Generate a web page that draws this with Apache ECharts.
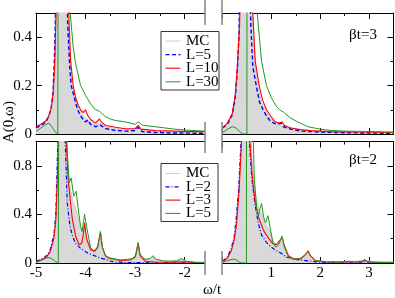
<!DOCTYPE html>
<html><head><meta charset="utf-8">
<script src="https://cdn.jsdelivr.net/npm/echarts@6/dist/echarts.min.js"></script>
<style>html,body{margin:0;padding:0;background:#fff}#c{width:395px;height:298px}</style>
</head><body><div id="c"></div>
<script>
// ---------- data: [omega/t, A(0,omega)] ----------
// top row, beta t = 3, left part of omega axis
const tlMC  = [[-5,0.03],[-4.9,0.04],[-4.8,0.055],[-4.72,0.08],[-4.66,0.13],[-4.62,0.25],[-4.59,0.5],[-4.56,1.2],[-4.5,3],[-4.42,1.5],[-4.36,0.5],[-4.32,0.3],[-4.27,0.2],[-4.2,0.14],[-4.1,0.09],[-4.0,0.065],[-3.9,0.05],[-3.8,0.04],[-3.7,0.045],[-3.6,0.03],[-3.4,0.022],[-3.2,0.018],[-3.0,0.02],[-2.93,0.024],[-2.8,0.012],[-2.5,0.008],[-2.2,0.006],[-1.9,0.005],[-1.59,0.004]];
const tlL5  = [[-5,0.025],[-4.9,0.035],[-4.8,0.05],[-4.75,0.07],[-4.7,0.1],[-4.66,0.16],[-4.63,0.3],[-4.6,0.55],[-4.55,1.5],[-4.47,3],[-4.4,1.0],[-4.36,0.45],[-4.32,0.28],[-4.29,0.2],[-4.2,0.13],[-4.16,0.1],[-4.1,0.075],[-4.05,0.06],[-4.0,0.05],[-3.95,0.058],[-3.9,0.04],[-3.8,0.03],[-3.7,0.037],[-3.6,0.022],[-3.4,0.015],[-3.2,0.012],[-3.0,0.014],[-2.94,0.028],[-2.86,0.01],[-2.6,0.006],[-2.2,0.004],[-1.59,0.003]];
const tlL10 = [[-5,0.03],[-4.9,0.04],[-4.8,0.055],[-4.74,0.075],[-4.69,0.11],[-4.65,0.18],[-4.62,0.3],[-4.59,0.55],[-4.54,1.5],[-4.46,3],[-4.38,1.0],[-4.34,0.5],[-4.3,0.3],[-4.25,0.2],[-4.2,0.15],[-4.15,0.12],[-4.1,0.1],[-4.05,0.088],[-4.0,0.1],[-3.96,0.078],[-3.9,0.06],[-3.8,0.045],[-3.72,0.062],[-3.68,0.05],[-3.6,0.035],[-3.4,0.028],[-3.2,0.022],[-3.0,0.022],[-2.94,0.036],[-2.88,0.02],[-2.6,0.014],[-2.2,0.012],[-1.9,0.01],[-1.59,0.01]];
const tlL30 = [[-5,0.01],[-4.9,0.025],[-4.8,0.04],[-4.74,0.045],[-4.68,0.03],[-4.62,0.01],[-4.56,0.0],[-4.52,0.0],[-4.515,5],[-4.33,0.6],[-4.31,0.5],[-4.25,0.36],[-4.2,0.29],[-4.1,0.2],[-4.0,0.16],[-3.9,0.125],[-3.8,0.1],[-3.75,0.098],[-3.7,0.09],[-3.6,0.072],[-3.5,0.062],[-3.4,0.056],[-3.2,0.05],[-3.0,0.04],[-2.94,0.05],[-2.85,0.036],[-2.6,0.03],[-2.4,0.025],[-2.2,0.02],[-1.9,0.015],[-1.59,0.012]];
// top row, beta t = 3, right part
const trMC  = [[0,0.025],[0.1,0.04],[0.2,0.075],[0.27,0.15],[0.32,0.3],[0.36,0.6],[0.42,2],[0.5,3],[0.58,1],[0.62,0.45],[0.67,0.28],[0.72,0.2],[0.8,0.13],[0.9,0.09],[1.0,0.06],[1.1,0.045],[1.2,0.04],[1.3,0.03],[1.5,0.02],[1.8,0.012],[2.2,0.008],[2.8,0.005],[3.5,0.004]];
const trL5  = [[0,0.025],[0.1,0.04],[0.2,0.08],[0.26,0.15],[0.3,0.25],[0.34,0.42],[0.38,1.0],[0.45,3],[0.53,1.0],[0.58,0.45],[0.62,0.28],[0.69,0.2],[0.76,0.13],[0.83,0.1],[0.9,0.075],[0.97,0.055],[1.05,0.045],[1.12,0.04],[1.2,0.045],[1.25,0.03],[1.4,0.02],[1.6,0.012],[1.8,0.01],[2.0,0.008],[2.5,0.005],[3.0,0.004],[3.5,0.003]];
const trL10 = [[0,0.025],[0.1,0.045],[0.2,0.085],[0.26,0.16],[0.3,0.27],[0.35,0.45],[0.4,1.0],[0.47,3],[0.56,1.0],[0.62,0.5],[0.67,0.3],[0.75,0.2],[0.82,0.14],[0.9,0.1],[1.0,0.07],[1.07,0.052],[1.15,0.045],[1.22,0.05],[1.27,0.035],[1.4,0.025],[1.6,0.018],[1.8,0.014],[2.2,0.01],[2.8,0.008],[3.5,0.006]];
const trL30 = [[0,0.005],[0.1,0.02],[0.2,0.03],[0.28,0.025],[0.35,0.01],[0.42,0],[0.5,0],[0.505,5],[0.69,0.6],[0.71,0.5],[0.8,0.3],[0.9,0.2],[1.0,0.15],[1.1,0.115],[1.17,0.1],[1.25,0.09],[1.4,0.065],[1.54,0.05],[1.75,0.03],[2.0,0.02],[2.2,0.015],[2.5,0.012],[3.0,0.01],[3.5,0.008]];
// bottom row, beta t = 2, left part
const blMC  = [[-5,0.012],[-4.9,0.025],[-4.8,0.05],[-4.72,0.09],[-4.64,0.2],[-4.6,0.35],[-4.56,0.8],[-4.52,2],[-4.45,3],[-4.4,1.2],[-4.35,0.75],[-4.3,0.6],[-4.25,0.5],[-4.2,0.45],[-4.15,0.37],[-4.1,0.28],[-4.05,0.25],[-4.02,0.3],[-3.97,0.2],[-3.9,0.12],[-3.8,0.08],[-3.72,0.15],[-3.7,0.2],[-3.66,0.12],[-3.6,0.05],[-3.5,0.03],[-3.2,0.02],[-3.0,0.04],[-2.94,0.12],[-2.88,0.04],[-2.7,0.03],[-2.64,0.05],[-2.58,0.025],[-2.3,0.015],[-2.06,0.03],[-1.9,0.01],[-1.59,0.005]];
const blL2  = [[-5,0.014],[-4.9,0.03],[-4.8,0.055],[-4.72,0.1],[-4.64,0.23],[-4.6,0.4],[-4.56,1.0],[-4.5,3],[-4.44,2],[-4.41,1.0],[-4.37,0.5],[-4.32,0.32],[-4.27,0.23],[-4.2,0.16],[-4.1,0.12],[-4.04,0.105],[-3.95,0.08],[-3.85,0.065],[-3.7,0.04],[-3.59,0.03],[-3.5,0.015],[-3.4,0.008],[-3.2,0.004],[-2.8,0.002],[-1.59,0.001]];
const blL3  = [[-5,0.012],[-4.9,0.025],[-4.8,0.045],[-4.72,0.085],[-4.64,0.2],[-4.6,0.35],[-4.56,0.8],[-4.53,1.5],[-4.48,3],[-4.42,1.5],[-4.39,1.0],[-4.35,0.68],[-4.27,0.37],[-4.2,0.22],[-4.13,0.15],[-4.08,0.16],[-4.05,0.22],[-4.02,0.33],[-3.98,0.2],[-3.9,0.11],[-3.82,0.1],[-3.76,0.13],[-3.7,0.25],[-3.66,0.13],[-3.6,0.06],[-3.53,0.04],[-3.3,0.02],[-3.1,0.025],[-3.0,0.05],[-2.94,0.16],[-2.9,0.06],[-2.8,0.015],[-2.6,0.008],[-2.3,0.006],[-2.06,0.01],[-1.8,0.005],[-1.59,0.004]];
const blL5  = [[-5,0.005],[-4.9,0.02],[-4.8,0.04],[-4.74,0.045],[-4.68,0.035],[-4.6,0.01],[-4.55,0],[-4.52,0],[-4.515,5],[-4.4,1.2],[-4.36,0.85],[-4.33,0.66],[-4.29,0.7],[-4.24,0.55],[-4.19,0.59],[-4.15,0.45],[-4.1,0.3],[-4.07,0.26],[-4.02,0.4],[-3.98,0.3],[-3.9,0.13],[-3.82,0.09],[-3.75,0.13],[-3.7,0.26],[-3.66,0.13],[-3.6,0.06],[-3.5,0.04],[-3.3,0.025],[-3.05,0.035],[-2.98,0.07],[-2.94,0.17],[-2.9,0.07],[-2.8,0.03],[-2.7,0.035],[-2.64,0.06],[-2.58,0.03],[-2.4,0.015],[-2.15,0.015],[-2.06,0.04],[-2.0,0.015],[-1.8,0.005],[-1.59,0.004]];
// bottom row, beta t = 2, right part
const brMC  = [[0,0.012],[0.1,0.045],[0.18,0.11],[0.24,0.2],[0.29,0.35],[0.34,0.65],[0.39,1.1],[0.46,3],[0.56,1.2],[0.62,0.75],[0.68,0.55],[0.74,0.45],[0.8,0.4],[0.86,0.33],[0.92,0.3],[0.98,0.25],[1.05,0.17],[1.12,0.15],[1.2,0.18],[1.26,0.13],[1.35,0.05],[1.5,0.03],[1.7,0.06],[1.75,0.08],[1.8,0.05],[1.9,0.02],[2.2,0.01],[2.6,0.012],[2.9,0.02],[3.2,0.006],[3.5,0.004]];
const brL2  = [[0,0.014],[0.1,0.05],[0.18,0.12],[0.24,0.22],[0.28,0.37],[0.33,0.6],[0.38,1.0],[0.45,3],[0.55,1.0],[0.6,0.7],[0.66,0.5],[0.73,0.33],[0.8,0.23],[0.9,0.17],[1.0,0.13],[1.07,0.11],[1.2,0.08],[1.3,0.05],[1.5,0.03],[1.7,0.02],[1.9,0.01],[2.1,0.004],[2.5,0.002],[3.5,0.001]];
const brL3  = [[0,0.01],[0.1,0.04],[0.18,0.1],[0.24,0.19],[0.29,0.33],[0.34,0.6],[0.39,1.0],[0.46,3],[0.56,1.0],[0.61,0.7],[0.67,0.5],[0.75,0.36],[0.85,0.26],[0.95,0.2],[1.03,0.16],[1.1,0.15],[1.16,0.18],[1.22,0.21],[1.26,0.15],[1.35,0.06],[1.45,0.035],[1.6,0.035],[1.7,0.07],[1.75,0.1],[1.8,0.06],[1.9,0.02],[2.1,0.01],[2.5,0.008],[2.85,0.01],[2.91,0.02],[3.0,0.008],[3.5,0.005]];
const brL5  = [[0,0.005],[0.1,0.02],[0.2,0.03],[0.26,0.03],[0.32,0.015],[0.38,0],[0.49,0],[0.495,5],[0.6,1.5],[0.65,0.7],[0.7,0.45],[0.73,0.38],[0.77,0.45],[0.8,0.49],[0.84,0.38],[0.88,0.33],[0.93,0.39],[0.97,0.3],[1.03,0.17],[1.09,0.13],[1.15,0.15],[1.19,0.19],[1.22,0.22],[1.26,0.14],[1.35,0.05],[1.45,0.03],[1.6,0.035],[1.7,0.07],[1.75,0.1],[1.8,0.06],[1.9,0.02],[2.1,0.008],[2.5,0.008],[2.6,0.015],[2.64,0.02],[2.7,0.008],[2.85,0.015],[2.91,0.03],[2.97,0.01],[3.2,0.005],[3.5,0.004]];

// axis ranges and ticks
const leftRange = [-5, -1.59];
const rightRange = [0, 3.5];
const leftMajor = [-5, -4, -3, -2], leftMinor = [-4.5, -3.5, -2.5];
const rightMajor = [0, 1, 2, 3], rightMinor = [0.5, 1.5, 2.5];
const leftLabels = [-5, -4, -3, -2], rightLabels = [1, 2, 3];
const topYMax = 0.5, botYMax = 1.0;
const topYMajor = [0, 0.2, 0.4], topYMinor = [0.1, 0.3];
const botYMajor = [0, 0.4, 0.8], botYMinor = [0.2, 0.6];
const topLegend = ['MC', 'L=5', 'L=10', 'L=30'];
const botLegend = ['MC', 'L=2', 'L=3', 'L=5'];
const topTag = 'βt=3', botTag = 'βt=2';

// ---------- styles / layout ----------
const FONT = 'Liberation Serif';
const FS = 15;
const GRAY_LINE = '#cdcdcd', GRAY_FILL = '#d9d9d9';
const BLUE = '#0000ff', RED = '#ff0000', GREEN = '#1e9a1e';
const styles = {
  top: [
    {color: GRAY_LINE, width: 1, type: 'solid', fill: true},
    {color: BLUE, width: 1.4, type: [4, 2.5]},
    {color: RED, width: 1.1, type: 'solid'},
    {color: GREEN, width: 1.0, type: 'solid'}
  ],
  bot: [
    {color: GRAY_LINE, width: 1, type: 'solid', fill: true},
    {color: BLUE, width: 1.2, type: [4, 2, 1, 2]},
    {color: RED, width: 1.1, type: 'solid'},
    {color: GREEN, width: 1.0, type: 'solid'}
  ]
};
const grids = [
  {left: 36, top: 13, width: 169, height: 121},
  {left: 222.5, top: 13, width: 171, height: 121},
  {left: 36, top: 141.5, width: 169, height: 121.5},
  {left: 222.5, top: 141.5, width: 171, height: 121.5}
];

const xAxes = [], yAxes = [];
function xAx(gi, pos, range, vals, len, line, labels) {
  xAxes.push({
    type: 'value', gridIndex: gi, position: pos, min: range[0], max: range[1],
    axisLine: {show: line, onZero: false, lineStyle: {color: '#000', width: 1}},
    axisTick: {show: true, inside: true, length: len, customValues: vals, lineStyle: {color: '#000', width: 1}},
    minorTick: {show: false},
    axisLabel: labels ? {show: true, customValues: labels, margin: 3, fontFamily: FONT, fontSize: FS, color: '#000'} : {show: false},
    splitLine: {show: false}
  });
  return xAxes.length - 1;
}
function yAx(gi, pos, max, vals, len, line, labels) {
  yAxes.push({
    type: 'value', gridIndex: gi, position: pos, min: 0, max: max,
    axisLine: {show: line, onZero: false, lineStyle: {color: '#000', width: 1}},
    axisTick: {show: true, inside: true, length: len, customValues: vals, lineStyle: {color: '#000', width: 1}},
    minorTick: {show: false},
    axisLabel: labels ? {show: true, customValues: labels, margin: 4, fontFamily: FONT, fontSize: FS, color: '#000'} : {show: false},
    splitLine: {show: false}
  });
  return yAxes.length - 1;
}

const panels = [
  {gi: 0, range: leftRange, maj: leftMajor, min: leftMinor, xl: null, ymax: topYMax, ymaj: topYMajor, ymin: topYMinor, side: 'left', data: [tlMC, tlL5, tlL10, tlL30], st: styles.top, names: topLegend},
  {gi: 1, range: rightRange, maj: rightMajor, min: rightMinor, xl: null, ymax: topYMax, ymaj: topYMajor, ymin: topYMinor, side: 'right', data: [trMC, trL5, trL10, trL30], st: styles.top, names: topLegend},
  {gi: 2, range: leftRange, maj: leftMajor, min: leftMinor, xl: leftLabels, ymax: botYMax, ymaj: botYMajor, ymin: botYMinor, side: 'left', data: [blMC, blL2, blL3, blL5], st: styles.bot, names: botLegend},
  {gi: 3, range: rightRange, maj: rightMajor, min: rightMinor, xl: rightLabels, ymax: botYMax, ymaj: botYMajor, ymin: botYMinor, side: 'right', data: [brMC, brL2, brL3, brL5], st: styles.bot, names: botLegend}
];

const series = [];
panels.forEach(p => {
  const xi = xAx(p.gi, 'bottom', p.range, p.maj, 6, true, p.xl);
  xAx(p.gi, 'bottom', p.range, p.min, 3, false, null);
  xAx(p.gi, 'top', p.range, p.maj, 6, true, null);
  xAx(p.gi, 'top', p.range, p.min, 3, false, null);
  const yi = yAx(p.gi, p.side, p.ymax, p.ymaj, 6, true, p.side === 'left' ? p.ymaj : null);
  yAx(p.gi, p.side, p.ymax, p.ymin, 3, false, null);
  p.data.forEach((d, k) => {
    const s = p.st[k];
    series.push({
      type: 'line', name: p.names[k], data: d, xAxisIndex: xi, yAxisIndex: yi,
      symbol: 'none', clip: true, silent: true, animation: false, z: 2 + k,
      lineStyle: {color: s.color, width: s.width, type: s.type},
      areaStyle: s.fill ? {color: GRAY_FILL, opacity: 1} : undefined
    });
  });
});

// ---------- decorations: break marks, legends, labels ----------
const graphic = [];
const breakX = [205, 222];
const breakSegs = [[0, 25], [122, 153], [251, 275]];
breakX.forEach(x => breakSegs.forEach(s => graphic.push({
  type: 'line', z: 50, shape: {x1: x, y1: s[0], x2: x, y2: s[1]}, style: {stroke: '#8a8a8a', lineWidth: 1.6}
})));

function legend(x, y, w, h, rowY, step, names, st) {
  graphic.push({type: 'rect', z: 60, shape: {x: x, y: y, width: w, height: h}, style: {fill: '#fff', stroke: '#333', lineWidth: 1}});
  names.forEach((n, i) => {
    const cy = rowY + step * i;
    graphic.push({type: 'line', z: 61, shape: {x1: x + 4.5, y1: cy, x2: x + 19.5, y2: cy},
      style: {stroke: st[i].color, lineWidth: st[i].width, lineDash: Array.isArray(st[i].type) ? st[i].type : null}});
    graphic.push({type: 'text', z: 61, x: x + 25, y: cy, style: {text: n, font: FS + 'px "' + FONT + '"', fill: '#000', textAlign: 'left', textVerticalAlign: 'middle'}});
  });
}
legend(161, 31.5, 58, 58.5, 41, 13.6, topLegend, styles.top);
legend(161, 163.5, 57, 58, 173.5, 13.3, botLegend, styles.bot);

graphic.push({type: 'text', z: 61, x: 363, y: 35, style: {text: topTag, font: FS + 'px "' + FONT + '"', fill: '#000', textAlign: 'center', textVerticalAlign: 'middle'}});
graphic.push({type: 'text', z: 61, x: 363, y: 160, style: {text: botTag, font: FS + 'px "' + FONT + '"', fill: '#000', textAlign: 'center', textVerticalAlign: 'middle'}});
graphic.push({type: 'text', z: 61, x: 9, y: 122, rotation: Math.PI / 2, style: {text: 'A(0,ω)', font: FS + 'px "' + FONT + '"', fill: '#000', textAlign: 'center', textVerticalAlign: 'middle'}});
graphic.push({type: 'text', z: 61, x: 212, y: 290, style: {text: 'ω/t', font: FS + 'px "' + FONT + '"', fill: '#000', textAlign: 'center', textVerticalAlign: 'middle'}});

const chart = echarts.init(document.getElementById('c'), null, {renderer: 'canvas', width: 395, height: 298});
chart.setOption({
  backgroundColor: '#fff',
  animation: false,
  grid: grids.map(g => Object.assign({show: false, containLabel: false}, g)),
  xAxis: xAxes,
  yAxis: yAxes,
  series: series,
  graphic: graphic
});
</script></body></html>
